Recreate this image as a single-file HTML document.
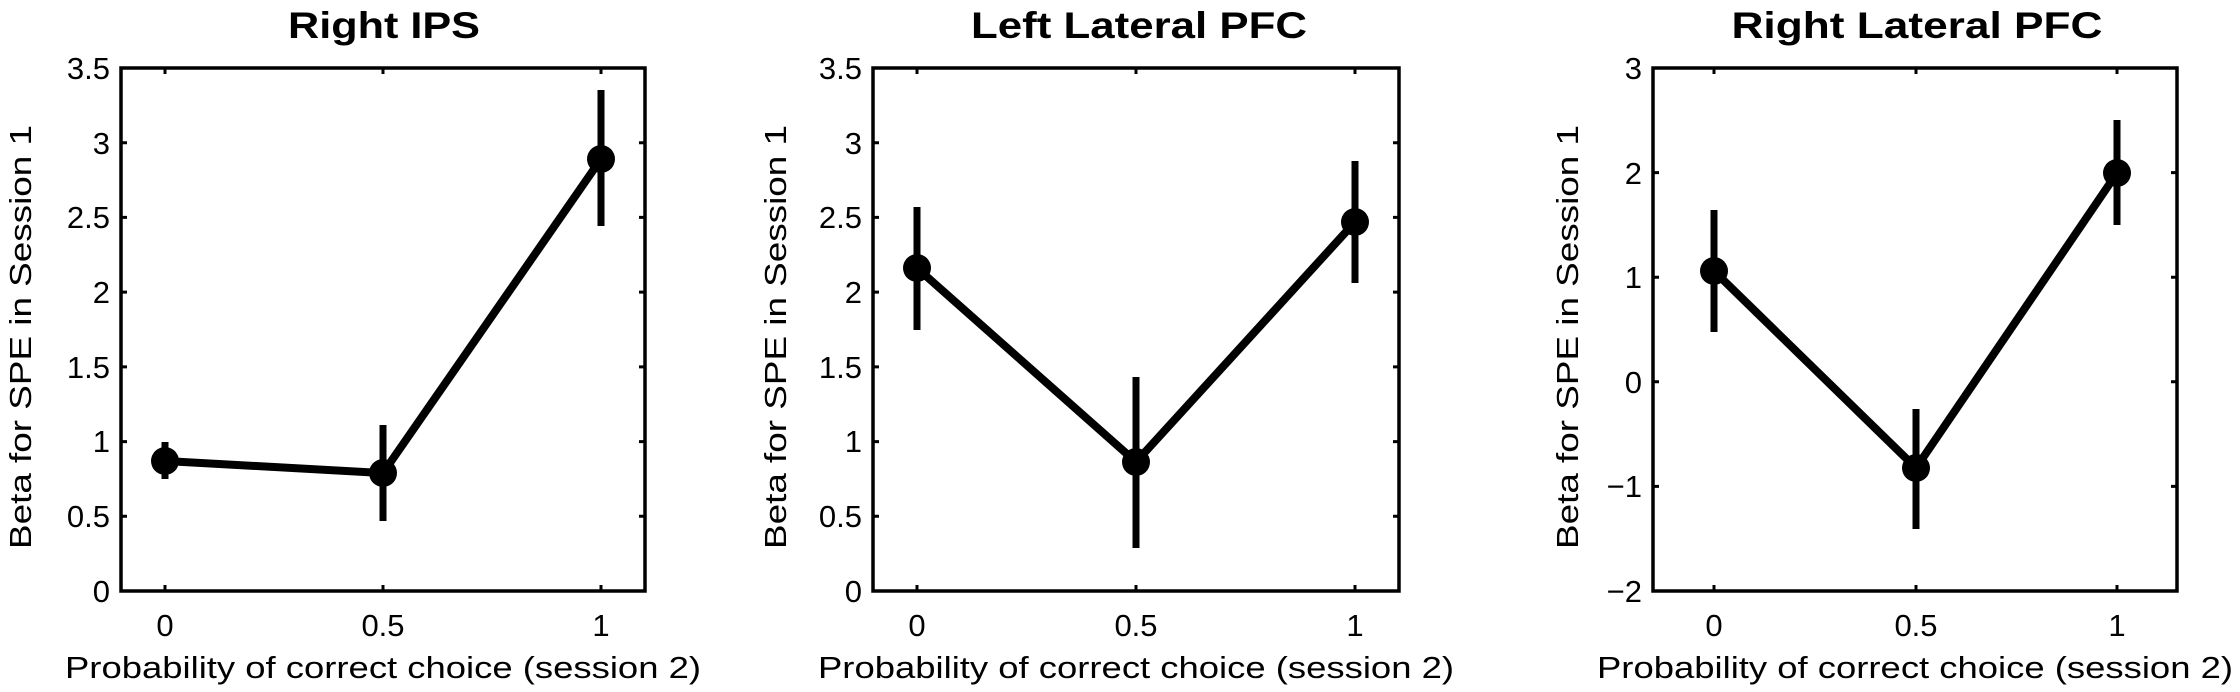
<!DOCTYPE html>
<html><head><meta charset="utf-8"><style>
html,body{margin:0;padding:0;background:#fff;}
svg{display:block;}
text{font-family:"Liberation Sans",Arial,sans-serif;fill:#000;}
.t{font-weight:bold;font-size:37px;}
.k{font-size:31px;}
.lab{font-size:31px;}
</style></head><body>
<svg width="2240" height="692" viewBox="0 0 2240 692" xmlns="http://www.w3.org/2000/svg">
<g fill="none" stroke="#000" stroke-width="3.5">
<rect x="121" y="68" width="524" height="523"/>
<rect x="873" y="68" width="526" height="523"/>
<rect x="1653" y="68" width="524" height="523"/>
</g>
<g stroke="#000" stroke-width="3">
<path d="M165 591v-6M383 591v-6M601 591v-6M165 68v6M383 68v6M601 68v6"/>
<path d="M121 591.0h6M121 516.3h6M121 441.6h6M121 366.9h6M121 292.1h6M121 217.4h6M121 142.7h6M121 68h6"/>
<path d="M645 516.3h-6M645 441.6h-6M645 366.9h-6M645 292.1h-6M645 217.4h-6M645 142.7h-6"/>
<path d="M917 591v-6M1136 591v-6M1355 591v-6M917 68v6M1136 68v6M1355 68v6"/>
<path d="M873 516.3h6M873 441.6h6M873 366.9h6M873 292.1h6M873 217.4h6M873 142.7h6"/>
<path d="M1399 516.3h-6M1399 441.6h-6M1399 366.9h-6M1399 292.1h-6M1399 217.4h-6M1399 142.7h-6"/>
<path d="M1714 591v-6M1916 591v-6M2117 591v-6M1714 68v6M1916 68v6M2117 68v6"/>
<path d="M1653 486.4h6M1653 381.8h6M1653 277.2h6M1653 172.6h6"/>
<path d="M2177 486.4h-6M2177 381.8h-6M2177 277.2h-6M2177 172.6h-6"/>
</g>
<g stroke="#000" fill="none" stroke-linejoin="round">
<polyline stroke-width="8" points="165,461 383,473 601,159"/>
<polyline stroke-width="8" points="917,268 1136,462 1355,222"/>
<polyline stroke-width="8" points="1714,271 1916,468 2117,173"/>
<g stroke-width="7">
<path d="M165 479V442M383 521V425M601 226V90"/>
<path d="M917 330V207M1136 548V377M1355 283V161"/>
<path d="M1714 332V210M1916 529V409M2117 225V120"/>
</g>
</g>
<g fill="#000">
<circle cx="165" cy="461" r="14"/><circle cx="383" cy="473" r="14"/><circle cx="601" cy="159" r="14"/>
<circle cx="917" cy="268" r="14"/><circle cx="1136" cy="462" r="14"/><circle cx="1355" cy="222" r="14"/>
<circle cx="1714" cy="271" r="14"/><circle cx="1916" cy="468" r="14"/><circle cx="2117" cy="173" r="14"/>
</g>
<text class="t" x="384" y="38" text-anchor="middle" textLength="192" lengthAdjust="spacingAndGlyphs">Right IPS</text>
<text class="t" x="1139" y="38" text-anchor="middle" textLength="336" lengthAdjust="spacingAndGlyphs">Left Lateral PFC</text>
<text class="t" x="1917" y="38" text-anchor="middle" textLength="371" lengthAdjust="spacingAndGlyphs">Right Lateral PFC</text>
<g class="k" text-anchor="end">
<text x="110" y="602">0</text><text x="110" y="527">0.5</text><text x="110" y="452">1</text><text x="110" y="378">1.5</text><text x="110" y="303">2</text><text x="110" y="228">2.5</text><text x="110" y="154">3</text><text x="110" y="79">3.5</text>
<text x="862" y="602">0</text><text x="862" y="527">0.5</text><text x="862" y="452">1</text><text x="862" y="378">1.5</text><text x="862" y="303">2</text><text x="862" y="228">2.5</text><text x="862" y="154">3</text><text x="862" y="79">3.5</text>
<text x="1642" y="602">−2</text><text x="1642" y="497">−1</text><text x="1642" y="393">0</text><text x="1642" y="288">1</text><text x="1642" y="184">2</text><text x="1642" y="79">3</text>
</g>
<g class="k" text-anchor="middle">
<text x="165" y="636">0</text><text x="383" y="636">0.5</text><text x="601" y="636">1</text>
<text x="917" y="636">0</text><text x="1136" y="636">0.5</text><text x="1355" y="636">1</text>
<text x="1714" y="636">0</text><text x="1916" y="636">0.5</text><text x="2117" y="636">1</text>
</g>
<g class="lab" text-anchor="middle">
<text x="383" y="678" textLength="636" lengthAdjust="spacingAndGlyphs">Probability of correct choice (session 2)</text>
<text x="1136" y="678" textLength="636" lengthAdjust="spacingAndGlyphs">Probability of correct choice (session 2)</text>
<text x="1915" y="678" textLength="636" lengthAdjust="spacingAndGlyphs">Probability of correct choice (session 2)</text>
</g>
<g class="lab" text-anchor="middle">
<text transform="translate(31,337) rotate(-90)" textLength="424" lengthAdjust="spacingAndGlyphs">Beta for SPE in Session 1</text>
<text transform="translate(786,337) rotate(-90)" textLength="424" lengthAdjust="spacingAndGlyphs">Beta for SPE in Session 1</text>
<text transform="translate(1578,337) rotate(-90)" textLength="424" lengthAdjust="spacingAndGlyphs">Beta for SPE in Session 1</text>
</g>
</svg>
</body></html>
